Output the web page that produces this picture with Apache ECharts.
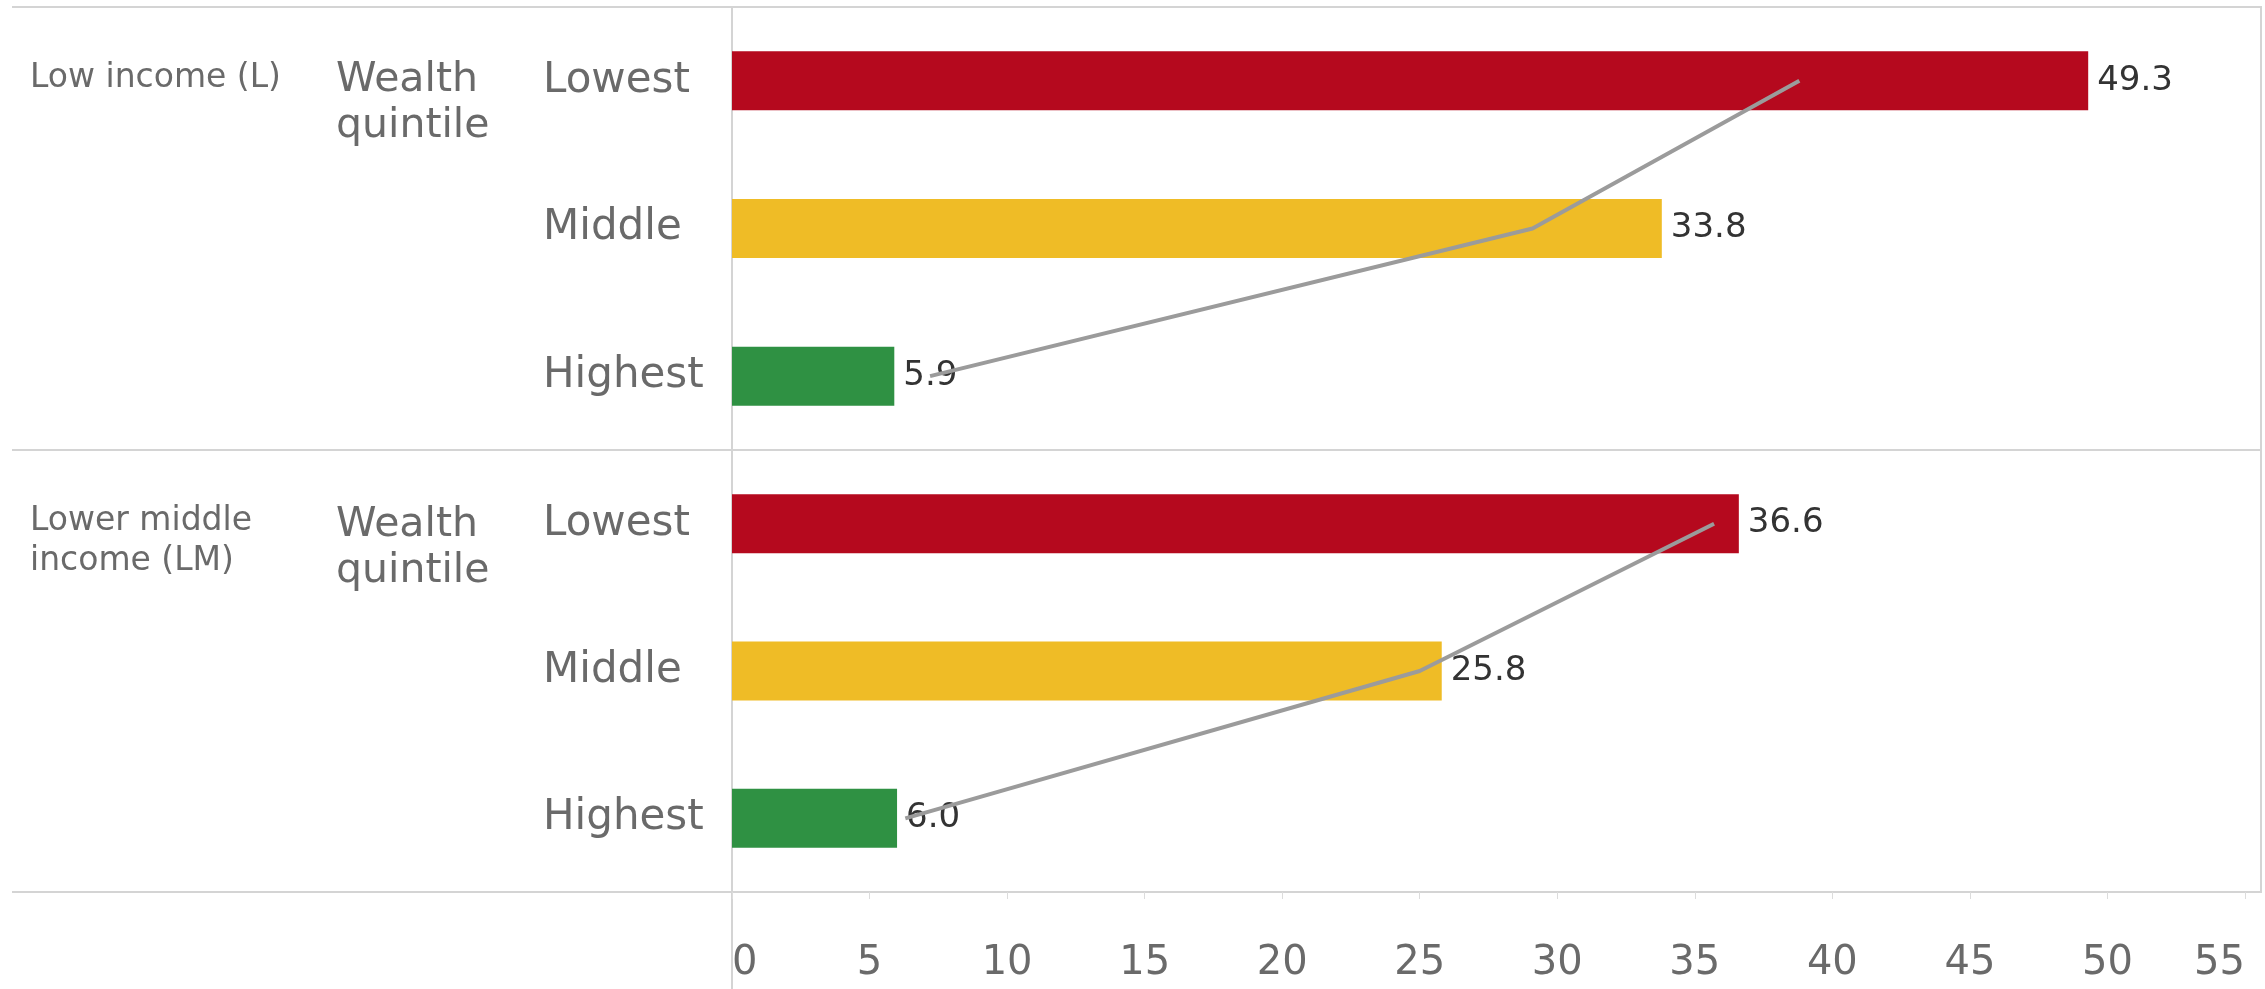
<!DOCTYPE html>
<html>
<head>
<meta charset="utf-8">
<script src="https://cdn.jsdelivr.net/npm/echarts@6/dist/echarts.min.js"></script>
<style>
html,body{margin:0;padding:0;background:#fff;}
#chart{width:2265px;height:989px;}
</style>
</head>
<body>
<div id="chart"></div>
<script>
// ---- data ----
const categories = ['Lowest', 'Middle', 'Highest'];
const panelNames = ['Low income (L)', 'Lower middle\nincome (LM)'];
const groupLabel = 'Wealth\nquintile';
const valuesL = [49.3, 33.8, 5.9];
const valuesLM = [36.6, 25.8, 6.0];
const lineL = [38.8, 29.1, 7.2];
const lineLM = [35.7, 25.0, 6.3];
const barColors = ['#b5091e', '#efbc26', '#2f9143'];
const axisMin = 0, axisMax = 55, axisStep = 5;

// ---- layout ----
const W = 2265, H = 989;
const FONT = 'DejaVu Sans';
const gridLeft = 732, gridRight = 20;
const panelTops = [7, 450];
const panelHeights = [443, 442];
const tableBottom = 892;
const borderColor = '#d4d4d4';

const chart = echarts.init(document.getElementById('chart'), null, {renderer: 'canvas'});

const grids = panelTops.map((t, i) => ({left: gridLeft, right: gridRight, top: t, height: panelHeights[i]}));

const xAxes = [0, 1].map(i => ({
  type: 'value', gridIndex: i, min: axisMin, max: axisMax, interval: axisStep,
  splitLine: {show: false},
  axisLine: {show: false},
  axisTick: {show: i === 1, length: 7, lineStyle: {color: '#dcdcdc', width: 1}},
  axisLabel: {
    show: i === 1, color: '#6a6a6a', fontFamily: FONT, fontSize: 40, margin: 52,
    alignMinLabel: 'left', alignMaxLabel: 'right'
  }
}));

const yAxes = [0, 1].map(i => ({
  type: 'category', gridIndex: i, data: categories, inverse: true,
  axisLine: {show: false}, axisTick: {show: false},
  axisLabel: {color: '#6a6a6a', fontFamily: FONT, fontSize: 42, align: 'left', margin: gridLeft - 543}
}));

function barSeries(vals, i) {
  return {
    type: 'bar', xAxisIndex: i, yAxisIndex: i, barWidth: 59,
    data: vals.map((v, k) => ({value: v, itemStyle: {color: barColors[k]}})),
    label: {show: true, position: 'right', distance: 9, color: '#333', fontFamily: FONT, fontSize: 34,
      formatter: p => p.value.toFixed(1)},
    z: 2
  };
}
function lineSeries(vals, i) {
  return {
    type: 'line', xAxisIndex: i, yAxisIndex: i, data: vals, symbol: 'none',
    lineStyle: {color: '#9b9b9b', width: 4}, z: 5, silent: true
  };
}

const hLine = (y) => ({type: 'line', shape: {x1: 12, y1: y, x2: 2262, y2: y}, style: {stroke: borderColor, lineWidth: 2}, silent: true});

const graphic = [
  hLine(panelTops[0]), hLine(panelTops[1]), hLine(tableBottom),
  {type: 'line', shape: {x1: gridLeft, y1: panelTops[0], x2: gridLeft, y2: H}, style: {stroke: borderColor, lineWidth: 2}},
  {type: 'line', shape: {x1: 2261, y1: panelTops[0], x2: 2261, y2: tableBottom}, style: {stroke: borderColor, lineWidth: 2}},
  {type: 'text', left: 30, top: 62, style: {text: panelNames[0], fontFamily: FONT, fontSize: 33, fill: '#6a6a6a'}},
  {type: 'text', left: 30, top: 501, style: {text: panelNames[1], fontFamily: FONT, fontSize: 33, lineHeight: 40, fill: '#6a6a6a'}},
  {type: 'text', left: 336, top: 57, style: {text: groupLabel, fontFamily: FONT, fontSize: 41, lineHeight: 46, fill: '#6a6a6a'}},
  {type: 'text', left: 336, top: 502, style: {text: groupLabel, fontFamily: FONT, fontSize: 41, lineHeight: 46, fill: '#6a6a6a'}}
];

chart.setOption({
  animation: false,
  backgroundColor: '#fff',
  grid: grids,
  xAxis: xAxes,
  yAxis: yAxes,
  series: [barSeries(valuesL, 0), lineSeries(lineL, 0), barSeries(valuesLM, 1), lineSeries(lineLM, 1)],
  graphic: graphic
});
</script>
</body>
</html>
